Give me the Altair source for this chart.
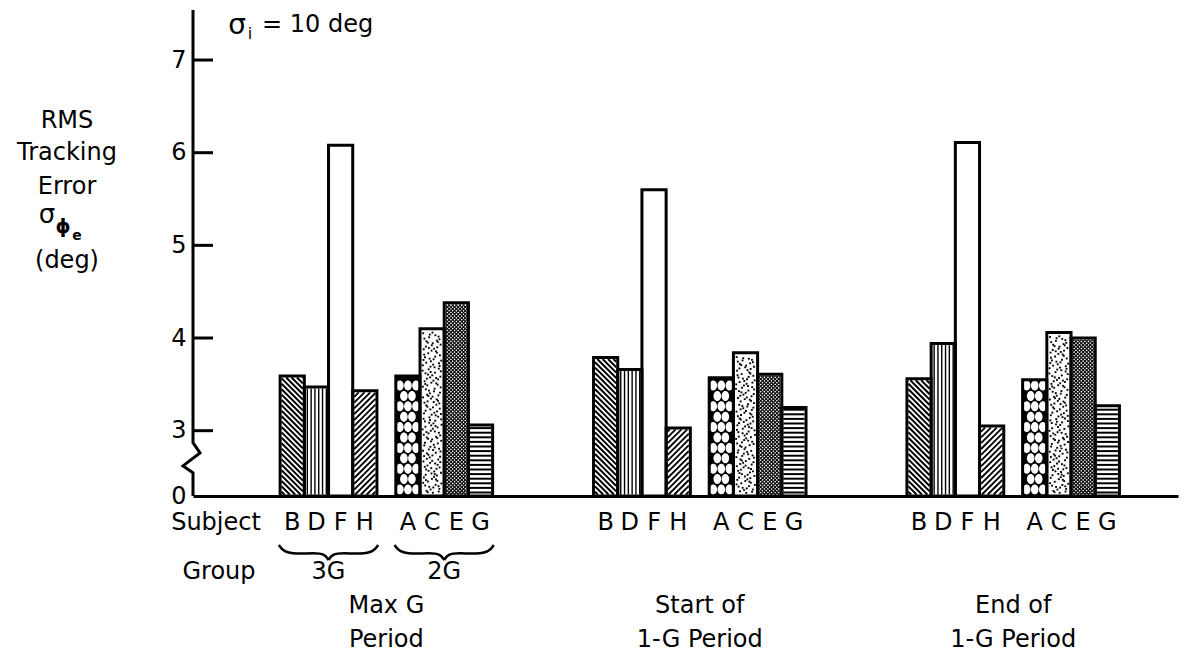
import altair as alt
import pandas as pd
import numpy as np

# ---------------- data ----------------
period_line1 = ["Max G", "Start of", "End of"]
period_line2 = ["Period", "1-G Period", "1-G Period"]
group_names = ["3G", "2G"]
subjects_3G = ["B", "D", "F", "H"]
subjects_2G = ["A", "C", "E", "G"]
maxg_3G = [3.59, 3.47, 6.08, 3.43]
maxg_2G = [3.59, 4.10, 4.38, 3.06]
start_3G = [3.79, 3.66, 5.60, 3.03]
start_2G = [3.57, 3.84, 3.61, 3.25]
end_3G = [3.56, 3.94, 6.11, 3.05]
end_2G = [3.55, 4.06, 4.00, 3.27]
y_ticks = [3, 4, 5, 6, 7]
pattern_of = {"B": "back", "D": "vert", "F": "blank", "H": "fwd",
              "A": "cobble", "C": "stipple", "E": "cross", "G": "horiz"}

# ---------------- layout ----------------
W, H = 985, 486
X0, X1 = -3.6, 37.1
Y0, Y1 = 2.295, 7.54          # axis broken: bottom of axis is labelled 0
STEP = 12.95                   # period spacing (bar slots)
SET_OFF = 4.78                 # offset of 2G set from 3G set
kx = W / (X1 - X0)
ky = H / (Y1 - Y0)
FONT = "DejaVu Sans"

xscale = alt.Scale(domain=[X0, X1], nice=False, zero=False)
yscale = alt.Scale(domain=[Y0, Y1], nice=False, zero=False)
yaxis = alt.Axis(values=[Y0] + y_ticks, labelExpr="datum.value < 2.5 ? '0' : format(datum.value, 'd')",
                 ticks=False, domain=False, grid=False, labelFontSize=24, labelFont=FONT,
                 labelColor="black", labelPadding=7, title=None)
xaxis = alt.Axis(labels=False, ticks=False, domain=True, domainColor="black", domainWidth=3,
                 grid=False, title=None)


def X(field):
    return alt.X(field, scale=xscale, axis=xaxis)


def Y(field):
    return alt.Y(field, scale=yscale, axis=yaxis)


vals = [(maxg_3G, maxg_2G), (start_3G, start_2G), (end_3G, end_2G)]
rows = []
for g, (v3, v2) in enumerate(vals):
    for s, (subs, vs) in enumerate([(subjects_3G, v3), (subjects_2G, v2)]):
        for k, (sub, v) in enumerate(zip(subs, vs)):
            pos = g * STEP + s * SET_OFF + k
            rows.append(dict(period=g, set=s, subject=sub, val=v, x0=pos, x1=pos + 1,
                             xc=pos + 0.5, base=Y0,
                             fillc="black" if pattern_of[sub] == "cobble" else "white"))
bars = pd.DataFrame(rows)


# ---------------- textures (derived from each bar's extent) ----------------
def to_data(pos, u, v):
    return pos + u / kx, Y0 + v / ky


def halton(i, b):
    f, r = 1.0, 0.0
    while i > 0:
        f /= b
        r += f * (i % b)
        i //= b
    return r


hatch, dots, cobbles = [], [], []
for r in rows:
    kind = pattern_of[r["subject"]]
    pos = r["x0"]
    w = kx
    h = (r["val"] - Y0) * ky
    m = 1.5
    u0, u1, v0, v1 = m, w - m, m, h - m
    segs = []
    if kind in ("back", "cross"):
        s = 5.4 if kind == "back" else 3.6
        sw = 2.0 if kind == "back" else 1.1
        for c in np.arange(u0 + v0 + s / 2, u1 + v1, s):
            lo, hi = max(u0, c - v1), min(u1, c - v0)
            if hi > lo:
                segs.append((lo, c - lo, hi, c - hi, sw))
    if kind in ("fwd", "cross"):
        s = 5.8 if kind == "fwd" else 3.6
        sw = 1.8 if kind == "fwd" else 1.1
        for c in np.arange(v0 - u1 + s / 2, v1 - u0, s):
            lo, hi = max(u0, v0 - c), min(u1, v1 - c)
            if hi > lo:
                segs.append((lo, lo + c, hi, hi + c, sw))
    if kind == "vert":
        for u in np.arange(u0 + 1.5, u1, 3.8):
            segs.append((u, v0, u, v1, 1.4))
    if kind == "horiz":
        for v in np.arange(v0 + 2, v1, 4.6):
            segs.append((u0, v, u1, v, 2.0))
    for (ua, va, ub, vb, sw) in segs:
        xa, ya = to_data(pos, ua, va)
        xb, yb = to_data(pos, ub, vb)
        hatch.append(dict(x=xa, y=ya, x2=xb, y2=yb, sw=sw))
    if kind == "stipple":
        n = int(w * h / 22)
        for i in range(1, n + 1):
            u = 2.5 + halton(i, 2) * (w - 5)
            v = 2.5 + halton(i, 3) * (h - 5)
            xa, ya = to_data(pos, u, v)
            dots.append(dict(x=xa, y=ya))
    if kind == "cobble":
        cw = w / 3
        row = 0
        v = 6.5
        while v < h - 5:
            centers = [cw * 0.5, cw * 1.5, cw * 2.5] if row % 2 == 0 else [cw * 1.0, cw * 2.0]
            for u in centers:
                xa, ya = to_data(pos, u, v)
                cobbles.append(dict(x=xa, y=ya))
            v += 10.4
            row += 1

hatch = pd.DataFrame(hatch)
dots = pd.DataFrame(dots)
cobbles = pd.DataFrame(cobbles)

# ---------------- layers ----------------
fill_layer = alt.Chart(bars).mark_bar(strokeWidth=0).encode(
    x=X("x0:Q"), x2="x1:Q", y=Y("val:Q"), y2="base:Q",
    fill=alt.Fill("fillc:N", scale=None))

hatch_layer = alt.Chart(hatch).mark_rule(color="black", strokeCap="butt").encode(
    x=X("x:Q"), x2="x2:Q", y=Y("y:Q"), y2="y2:Q",
    strokeWidth=alt.StrokeWidth("sw:Q", scale=None))

dot_layer = alt.Chart(dots).mark_point(filled=True, shape="square", size=3.5, color="black", opacity=1).encode(
    x=X("x:Q"), y=Y("y:Q"))

ellipse = "M-0.76,0A0.76,1 0 1,0 0.76,0A0.76,1 0 1,0 -0.76,0Z"
cobble_layer = alt.Chart(cobbles).mark_point(filled=True, shape=ellipse, size=100, color="white", opacity=1).encode(
    x=X("x:Q"), y=Y("y:Q"))

outline_layer = alt.Chart(bars).mark_bar(fillOpacity=0, stroke="black", strokeWidth=3, strokeJoin="miter").encode(
    x=X("x0:Q"), x2="x1:Q", y=Y("val:Q"), y2="base:Q")

tick_df = pd.DataFrame({"v": y_ticks})
tick_layer = alt.Chart(tick_df).mark_rule(color="black", strokeWidth=3).encode(
    x=alt.value(0), x2=alt.value(20), y=Y("v:Q"))

# y axis line with the break mark
axis_df = pd.DataFrame({"px": [0, 0, 7, -10, 0, 0],
                        "v": [Y1, 2.87, 2.76, 2.62, 2.545, Y0],
                        "o": list(range(6))})
axis_layer = alt.Chart(axis_df).mark_line(color="black", strokeWidth=3, strokeJoin="miter").encode(
    x=alt.X("px:Q", scale=None), y=Y("v:Q"), order="o:Q")

# subject letters, group labels, period labels (positions from the bar slots)
subj_df = bars[["subject", "xc"]].copy()
subj_layer = alt.Chart(subj_df).mark_text(font=FONT, fontSize=24, color="black", baseline="middle").encode(
    x=X("xc:Q"), y=alt.value(513), text="subject:N")

set_rows = []
for g in range(3):
    for s in range(2):
        left = g * STEP + s * SET_OFF
        set_rows.append(dict(g=g, s=s, left=left, right=left + 4, mid=left + 2,
                             name=group_names[s]))
sets = pd.DataFrame(set_rows)
grp_layer = alt.Chart(sets[sets.g == 0]).mark_text(font=FONT, fontSize=24, color="black", baseline="middle").encode(
    x=X("mid:Q"), y=alt.value(562), text="name:N")

per_df = pd.DataFrame({"mid": [g * STEP + (SET_OFF + 4) / 2 for g in range(3)],
                       "l1": period_line1, "l2": period_line2})
per1 = alt.Chart(per_df).mark_text(font=FONT, fontSize=24, color="black", baseline="middle").encode(
    x=X("mid:Q"), y=alt.value(596), text="l1:N")
per2 = alt.Chart(per_df).mark_text(font=FONT, fontSize=24, color="black", baseline="middle").encode(
    x=X("mid:Q"), y=alt.value(630), text="l2:N")

# braces under the Max G subject sets
brace_rows = []
for _, r in sets[sets.g == 0].iterrows():
    a, b, mm = r["left"] - 0.05, r["right"] + 0.05, r["mid"]
    half_l = [(a, 535), (a + 0.2, 542), (a + 0.7, 544), (mm - 0.6, 543), (mm - 0.15, 544), (mm, 550)]
    half_r = [(mm, 550), (mm + 0.15, 544), (mm + 0.6, 543), (b - 0.7, 544), (b - 0.2, 542), (b, 535)]
    for hname, pts in (("l", half_l), ("r", half_r)):
        for i, (xx, yy) in enumerate(pts):
            brace_rows.append(dict(key=f"{r['s']}{hname}", x=xx, py=yy, o=i))
braces = pd.DataFrame(brace_rows)
brace_layer = alt.Chart(braces).mark_line(color="black", strokeWidth=2.5, interpolate="basis").encode(
    x=X("x:Q"), y=alt.Y("py:Q", scale=None),
    detail="key:N", order="o:Q")

# free text: axis title, row labels, annotation
txt = pd.DataFrame([
    dict(px=-126, py=111, t="RMS", s=24, w="normal", a="center"),
    dict(px=-126, py=143, t="Tracking", s=24, w="normal", a="center"),
    dict(px=-126, py=177, t="Error", s=24, w="normal", a="center"),
    dict(px=-146, py=205, t="σ", s=26, w="normal", a="center"),
    dict(px=-130, py=217, t="ϕ", s=19, w="bold", a="center"),
    dict(px=-116, py=226, t="e", s=14, w="bold", a="center"),
    dict(px=-126, py=251, t="(deg)", s=24, w="normal", a="center"),
    dict(px=23, py=513, t="Subject", s=24, w="normal", a="center"),
    dict(px=26, py=562, t="Group", s=24, w="normal", a="center"),
    dict(px=44, py=16, t="σ", s=28, w="normal", a="center"),
    dict(px=57, py=24, t="i", s=16, w="normal", a="center"),
    dict(px=69, py=15, t="= 10 deg", s=24, w="normal", a="left"),
])
txt_layers = []
for al in ["center", "left"]:
    for wt in ["normal", "bold"]:
        sub = txt[(txt.a == al) & (txt.w == wt)]
        if len(sub) == 0:
            continue
        txt_layers.append(alt.Chart(sub).mark_text(font=FONT, color="black", baseline="middle",
                                                   align=al, fontWeight=wt).encode(
            x=alt.X("px:Q", scale=None), y=alt.Y("py:Q", scale=None), text="t:N",
            size=alt.Size("s:Q", scale=None, legend=None)))

chart = alt.layer(
    fill_layer, hatch_layer, dot_layer, cobble_layer, outline_layer, tick_layer, axis_layer,
    subj_layer, grp_layer, per1, per2, brace_layer, *txt_layers
).properties(
    width=W, height=H,
    autosize=alt.AutoSizeParams(type="none"),
    padding={"left": 193, "top": 10, "right": 14, "bottom": 166},
    background="white",
).configure_view(stroke=None)

chart.save("out.html", embed_options={"renderer": "svg", "actions": False})
